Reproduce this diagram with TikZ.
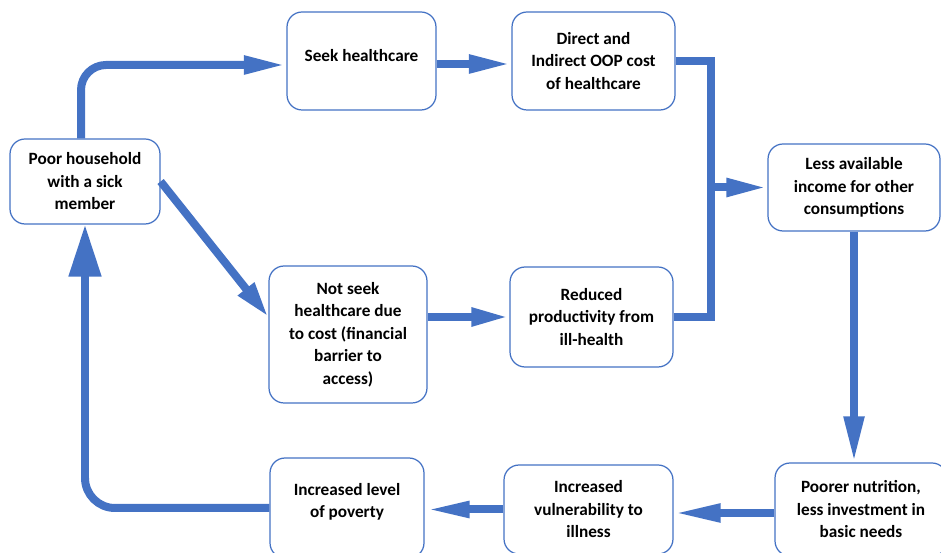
\documentclass[tikz,border=0pt]{standalone}
\usepackage{fontspec}
\setmainfont{Carlito}
\usepackage{xcolor}
\usetikzlibrary{arrows.meta}
\usetikzlibrary{calc}
\definecolor{cyclblue}{RGB}{68,114,196}

\begin{document}
\begin{tikzpicture}[x=0.02cm, y=-0.02cm, font=\fontsize{9.8}{12.8}\selectfont\bfseries]
              \tikzstyle{block} = [rectangle, rounded corners=0.3cm, align=center, draw=cyclblue, line width=0.7pt, fill=white, inner sep=0pt]
              \tikzstyle{flow} = [line width=0.16cm, draw=cyclblue, -{Triangle[length=0.85cm, width=0.34cm]}]
              \useasboundingbox (0,0) rectangle (941,553);
              \clip (0,0) rectangle (941,553);
              \node (house) [block, minimum width=3cm, minimum height=1.7cm] at (85,181.5) {Poor household\\with a sick\\member};
              \node (seek) [block, minimum width=2.98cm, minimum height=1.96cm, text depth=0.24cm] at (361.5,61) {Seek healthcare};
              \node (direct) [block, minimum width=3.26cm, minimum height=1.96cm] at (593.5,61) {Direct and\\Indirect OOP cost\\of healthcare};
              \node (less) [block, minimum width=3.44cm, minimum height=1.74cm] at (854,187.5) {Less available\\income for other\\consumptions};
              \node (notseek) [block, minimum width=3.16cm, minimum height=2.74cm] at (348,334.5) {Not seek\\healthcare due\\to cost (financial\\barrier to\\access)};
              \node (reduced) [block, minimum width=3.26cm, minimum height=2cm] at (591.5,317) {Reduced\\productivity from\\ill-health};
              \node (poorer) [block, minimum width=3.44cm, minimum height=1.86cm] at (861,509.5) {Poorer nutrition,\\less investment in\\basic needs};
              \node (vuln) [block, minimum width=3.38cm, minimum height=1.78cm] at (588.5,509.5) {Increased\\vulnerability to\\illness};
              \node (poverty) [block, minimum width=3.08cm, minimum height=2cm, text depth=0.3cm] at (347,508) {Increased level\\of poverty};
              \coordinate (junc) at (711,187.5);
              % top branch
              \draw[flow, rounded corners=0.5cm] ([xshift=-0.08cm]house.north) |- ([yshift=-0.08cm]seek.west);
              \draw[flow] ([yshift=-0.06cm]seek.east) -- ([yshift=-0.06cm]direct.west);
              % lower branch
              \draw[flow, -{Triangle[length=0.72cm, width=0.38cm]}] (house.east) -- ([yshift=0.35cm]notseek.west);
              \draw[flow, -{Triangle[length=0.76cm, width=0.34cm]}] (reduced.west -| notseek.east) -- (reduced.west);
              % both costs meet
              \draw[line width=0.16cm, draw=cyclblue] (direct.east) -| (junc) |- (reduced.east);
              \draw[flow, -{Triangle[length=0.82cm, width=0.34cm]}] (junc) -- (less.west);
              % back round the cycle
              \draw[flow, -{Triangle[length=0.92cm, width=0.38cm]}] (less.south) -- (less.south |- poorer.north);
              \draw[flow, -{Triangle[length=0.94cm, width=0.34cm]}] ([yshift=-0.07cm]poorer.west) -- ([yshift=-0.07cm]poorer.west -| vuln.east);
              \draw[flow, -{Triangle[length=0.9cm, width=0.3cm]}] (vuln.west) -- (vuln.west -| poverty.east);
              \draw[flow, rounded corners=0.6cm, -{Triangle[length=1.04cm, width=0.62cm]}] (poverty.west) -| (house.south);
            \end{tikzpicture}
\end{document}
